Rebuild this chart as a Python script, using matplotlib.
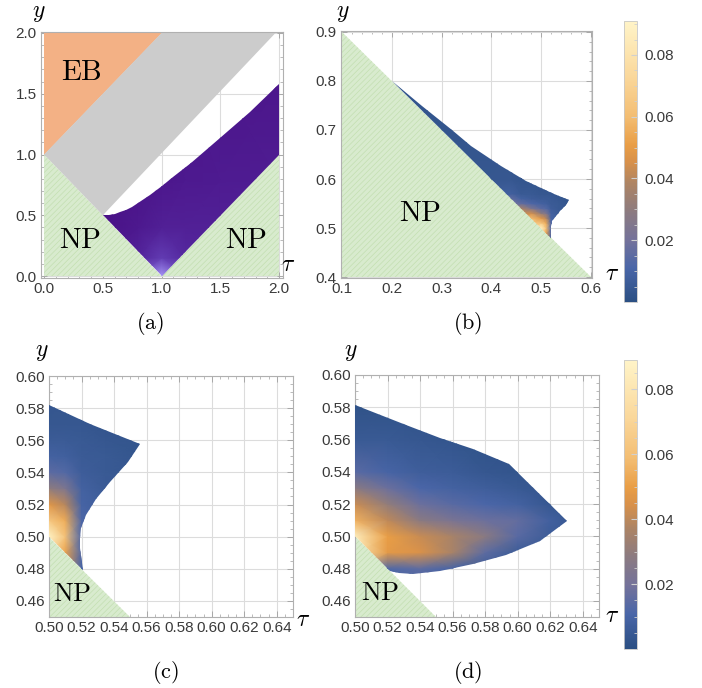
import matplotlib
matplotlib.use("Agg")
import matplotlib.pyplot as plt
import numpy as np
from matplotlib.colors import LinearSegmentedColormap, Normalize
from matplotlib.patches import Polygon
from matplotlib.ticker import MultipleLocator, FormatStrFormatter
from matplotlib.cm import ScalarMappable

plt.rcParams["mathtext.fontset"] = "cm"
plt.rcParams["font.family"] = ["Liberation Sans", "DejaVu Sans"]
plt.rcParams["hatch.linewidth"] = 0.5

# ---- panel (a): phase regions in the (tau, y) plane ----
a_np_tau = [0.0, 0.0, 1.0, 2.0, 2.0]
a_np_y = [0.0, 1.0, 0.0, 1.0, 0.0]
a_eb_tau = [0.0, 0.0, 1.0]
a_eb_y = [1.0, 2.0, 2.0]
a_gray_tau = [0.0, 1.0, 1.97, 0.5]
a_gray_y = [1.0, 2.0, 2.0, 0.5]
# upper boundary of the purple band, then its lower corners
a_top_tau = [0.5, 0.55, 0.6, 0.65, 0.7, 0.75, 0.8, 0.9, 1.0, 1.1, 1.25,
             1.5, 1.75, 2.0]
a_top_y = [0.5, 0.503, 0.512, 0.526, 0.546, 0.570, 0.598, 0.664, 0.737,
           0.813, 0.93, 1.138, 1.35, 1.58]
a_low_tau = [2.0, 1.0]
a_low_y = [1.0, 0.0]
# brightness of the purple band (0 dark, 1 light)
a_shade_tau = [0.5, 0.8, 1.0, 1.2, 1.5, 2.0]
a_shade_y = [0.0, 0.15, 0.4, 0.8, 1.6]
a_shade = [
    [0.1, 0.4, 1.0, 0.4, 0.25, 0.25],
    [0.05, 0.2, 0.4, 0.25, 0.2, 0.2],
    [0.0, 0.08, 0.15, 0.15, 0.15, 0.18],
    [0.0, 0.02, 0.05, 0.08, 0.1, 0.12],
    [0.0, 0.0, 0.0, 0.02, 0.03, 0.05],
]

# ---- panels (b), (c): same region at two zoom levels ----
bc_top_tau = [0.2, 0.26, 0.32, 0.36, 0.42, 0.47, 0.5, 0.525, 0.556]
bc_top_y = [0.8, 0.748, 0.70, 0.668, 0.627, 0.596, 0.582, 0.570, 0.5575]
bc_right_tau = [0.5488, 0.5374, 0.5292, 0.5226, 0.5195, 0.5189, 0.5193, 0.5206]
bc_right_y = [0.5462, 0.5339, 0.5236, 0.5133, 0.5051, 0.499, 0.4928, 0.4794]
bc_grid_tau = [0.20, 0.40, 0.44, 0.46, 0.48, 0.50, 0.51, 0.52, 0.535, 0.56]
bc_grid_y = [0.47, 0.48, 0.49, 0.50, 0.51, 0.52, 0.53, 0.54, 0.55, 0.56,
             0.57, 0.60, 0.70, 0.81]
# value in thousandths
bc_val = [
    [5, 5, 5, 30, 45, 60, 45, 10, 5, 5],
    [5, 5, 5, 30, 45, 70, 45, 10, 5, 5],
    [5, 5, 5, 30, 50, 80, 52, 12, 5, 5],
    [5, 5, 8, 35, 58, 90, 62, 12, 6, 5],
    [5, 5, 10, 40, 62, 65, 55, 12, 7, 5],
    [5, 5, 16, 42, 60, 48, 40, 10, 7, 5],
    [5, 6, 20, 40, 45, 30, 24, 9, 6, 5],
    [5, 7, 22, 38, 24, 15, 13, 7, 5, 4],
    [5, 9, 20, 16, 12, 9, 8, 6, 5, 3],
    [5, 10, 16, 9, 7, 6, 6, 5, 4, 3],
    [4, 7, 8, 5, 5, 4, 4, 4, 3, 2],
    [3, 4, 4, 3, 3, 3, 3, 2, 2, 2],
    [3, 3, 3, 3, 3, 3, 2, 2, 2, 2],
    [3, 3, 3, 3, 3, 3, 2, 2, 2, 2],
]

# ---- panel (d) ----
d_edge_tau = [0.5, 0.5, 0.5313, 0.552, 0.5726, 0.5948, 0.6303, 0.6138,
              0.593, 0.5726, 0.552, 0.5355, 0.527, 0.5215]
d_edge_y = [0.5, 0.5816, 0.5693, 0.5611, 0.554, 0.5448, 0.5097, 0.4969,
            0.4887, 0.4826, 0.4785, 0.4769, 0.477, 0.4785]
d_grid_tau = [0.50, 0.52, 0.54, 0.56, 0.58, 0.60, 0.62, 0.635]
d_grid_y = [0.47, 0.48, 0.49, 0.50, 0.51, 0.52, 0.53, 0.54, 0.56, 0.58, 0.60]
d_val = [
    [60, 10, 10, 8, 5, 5, 5, 5],
    [70, 12, 15, 10, 6, 5, 5, 5],
    [82, 48, 45, 36, 15, 6, 5, 5],
    [85, 50, 42, 36, 28, 14, 6, 5],
    [55, 40, 28, 22, 18, 16, 8, 4],
    [42, 30, 18, 14, 11, 9, 4, 3],
    [28, 18, 11, 9, 7, 5, 3, 3],
    [14, 10, 7, 6, 4, 3, 3, 2],
    [5, 5, 4, 3, 2, 2, 2, 2],
    [2, 2, 2, 2, 2, 2, 2, 2],
    [2, 2, 2, 2, 2, 2, 2, 2],
]

# NP triangle below y = 1 - tau
np_tau = [0.1, 0.1, 0.6]
np_y = [0.9, 0.4, 0.4]
np_zoom_tau = [0.5, 0.5, 0.55]
np_zoom_y = [0.5, 0.45, 0.45]

cbar_ticks = [0.02, 0.04, 0.06, 0.08]

W, H = 702, 688
GREEN = "#d8ebce"
HATCH = "#c3dfb1"
TICK_COLOR = "#3a3a3a"
TICK_SIZE = 11

dens = LinearSegmentedColormap.from_list("dens", [
    (0.0, "#2b4f83"), (0.12, "#4a66a8"), (0.22, "#74729a"),
    (0.32, "#8c7b80"), (0.42, "#ad8464"), (0.5, "#d8914a"),
    (0.56, "#e99e46"), (0.66, "#f3bd72"), (0.8, "#fad79a"),
    (1.0, "#fff4c8")])
purple = LinearSegmentedColormap.from_list("purp", [
    (0.0, "#4a1287"), (0.25, "#5529a0"), (0.5, "#6a48c0"),
    (1.0, "#a898f8")])


def px_axes(fig, left, right, top, bottom):
    """Add axes given in pixel coordinates (top-left origin)"""
    return fig.add_axes([left / W, (H - bottom) / H,
                         (right - left) / W, (bottom - top) / H])


def px_text(fig, x, y, s, **kw):
    fig.text(x / W, 1 - y / H, s, ha="center", va="center", **kw)


def style(ax, xlim, ylim, major, minor, fmt):
    ax.set_xlim(*xlim)
    ax.set_ylim(*ylim)
    for axis in (ax.xaxis, ax.yaxis):
        axis.set_major_locator(MultipleLocator(major))
        axis.set_minor_locator(MultipleLocator(minor))
        axis.set_major_formatter(FormatStrFormatter(fmt))
    ax.tick_params(which="both", direction="in", top=True, right=True,
                   color="#a0a0a0", labelcolor=TICK_COLOR,
                   labelsize=TICK_SIZE, pad=3)
    ax.tick_params(which="major", length=4, width=0.6)
    ax.tick_params(which="minor", length=2, width=0.5)
    ax.grid(True, which="major", color="#dcdcdc", lw=0.8)
    ax.set_axisbelow(True)
    for sp in ax.spines.values():
        sp.set_color("#b0b0b0")
        sp.set_linewidth(0.8)


def green(ax, taus, ys):
    ax.add_patch(Polygon(list(zip(taus, ys)), closed=True, facecolor=GREEN,
                         edgecolor=HATCH, hatch="//////", lw=0, zorder=2))


def field(ax, taus, ys, grid_tau, grid_y, vals, cmap, norm):
    clip = Polygon(list(zip(taus, ys)), closed=True, facecolor="none",
                   edgecolor="none", zorder=3)
    ax.add_patch(clip)
    mesh = ax.pcolormesh(grid_tau, grid_y, vals, shading="gouraud",
                         cmap=cmap, norm=norm, zorder=3)
    mesh.set_clip_path(clip)


def colorbar(fig, top, bottom, vmax):
    cax = px_axes(fig, 624, 637, top, bottom)
    cb = fig.colorbar(ScalarMappable(Normalize(0, vmax), dens), cax=cax,
                      ticks=cbar_ticks, format="%.2f")
    cb.outline.set_edgecolor("#c8c8c8")
    cb.outline.set_linewidth(0.6)
    cax.yaxis.set_minor_locator(MultipleLocator(0.005))
    cax.tick_params(which="both", direction="in", color="#d0d0d0",
                    labelcolor=TICK_COLOR, labelsize=TICK_SIZE, pad=5)
    cax.tick_params(which="major", length=4)
    cax.tick_params(which="minor", length=2)


def main():
    fig = plt.figure(figsize=(W / 100, H / 100), dpi=100)
    lab = dict(fontsize=17)
    big = dict(fontsize=21)

    # (a)
    ax = px_axes(fig, 41, 283, 32, 278)
    style(ax, (-0.026, 2.034), (-0.016, 2.008), 0.5, 0.1, "%.1f")
    green(ax, a_np_tau, a_np_y)
    ax.add_patch(Polygon(list(zip(a_eb_tau, a_eb_y)), closed=True,
                         facecolor="#f3b185", lw=0, zorder=2))
    ax.add_patch(Polygon(list(zip(a_gray_tau, a_gray_y)), closed=True,
                         facecolor="#cccccc", lw=0, zorder=2))
    field(ax, a_top_tau + a_low_tau, a_top_y + a_low_y,
          a_shade_tau, a_shade_y, np.array(a_shade), purple,
          Normalize(0, 1))
    ax.text(0.315, 1.675, r"$\mathrm{EB}$", ha="center", va="center",
            zorder=5, **big)
    ax.text(0.31, 0.30, r"$\mathrm{NP}$", ha="center", va="center",
            zorder=5, **big)
    ax.text(1.717, 0.30, r"$\mathrm{NP}$", ha="center", va="center",
            zorder=5, **big)

    # (b)
    norm_b = Normalize(0, 0.091)
    vals_bc = np.array(bc_val) / 1000.0
    ax = px_axes(fig, 341, 592, 31, 278)
    style(ax, (0.098, 0.602), (0.398, 0.902), 0.1, 0.02, "%.1f")
    green(ax, np_tau, np_y)
    field(ax, bc_top_tau + bc_right_tau, bc_top_y + bc_right_y,
          bc_grid_tau, bc_grid_y, vals_bc, dens, norm_b)
    ax.text(0.256, 0.531, r"$\mathrm{NP}$", ha="center", va="center",
            zorder=5, **big)
    colorbar(fig, 21, 302, 0.091)

    # (c)
    ax = px_axes(fig, 49, 293, 376, 617)
    style(ax, (0.5, 0.65), (0.45, 0.60), 0.02, 0.005, "%.2f")
    green(ax, np_zoom_tau, np_zoom_y)
    field(ax, bc_top_tau + bc_right_tau, bc_top_y + bc_right_y,
          bc_grid_tau, bc_grid_y, vals_bc, dens, norm_b)
    ax.text(0.5142, 0.4643, r"$\mathrm{NP}$", ha="center", va="center",
            zorder=5, fontsize=19)

    # (d)
    ax = px_axes(fig, 355, 599, 375, 617)
    style(ax, (0.5, 0.65), (0.45, 0.60), 0.02, 0.005, "%.2f")
    green(ax, np_zoom_tau, np_zoom_y)
    field(ax, d_edge_tau, d_edge_y, d_grid_tau, d_grid_y,
          np.array(d_val) / 1000.0, dens, Normalize(0, 0.089))
    ax.text(0.5153, 0.465, r"$\mathrm{NP}$", ha="center", va="center",
            zorder=5, fontsize=19)
    colorbar(fig, 360, 649, 0.089)

    # axis names and panel tags
    for x, y in [(39, 13), (343, 13), (42, 352), (351, 352)]:
        px_text(fig, x, y, r"$y$", **lab)
    for x, y in [(288, 265), (612, 274), (303, 620), (612, 616)]:
        px_text(fig, x, y, r"$\tau$", **lab)
    for x, y, s in [(150, 323, "a"), (468, 323, "b"),
                    (165, 672, "c"), (468, 672, "d")]:
        px_text(fig, x, y, r"$\mathrm{(%s)}$" % s, fontsize=16)

    fig.savefig("out.png", dpi=100)


if __name__ == "__main__":
    main()
